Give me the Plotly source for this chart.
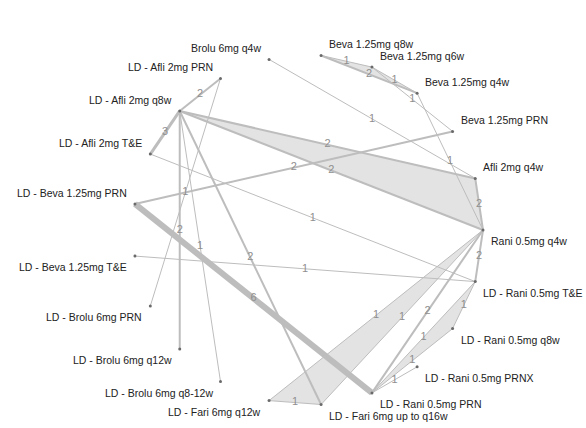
import numpy as np
import plotly.graph_objects as go

# Treatments, placed counter-clockwise around the circle starting at 3 o'clock
treatments = [
    "Rani 0.5mg q4w", "Afli 2mg q4w", "Beva 1.25mg PRN", "Beva 1.25mg q4w",
    "Beva 1.25mg q6w", "Beva 1.25mg q8w", "Brolu 6mg q4w",
    "LD - Afli 2mg PRN", "LD - Afli 2mg q8w", "LD - Afli 2mg T&E",
    "LD - Beva 1.25mg PRN", "LD - Beva 1.25mg T&E", "LD - Brolu 6mg PRN",
    "LD - Brolu 6mg q12w", "LD - Brolu 6mg q8-12w", "LD - Fari 6mg q12w",
    "LD - Fari 6mg up to q16w", "LD - Rani 0.5mg PRN", "LD - Rani 0.5mg PRNX",
    "LD - Rani 0.5mg q8w", "LD - Rani 0.5mg T&E",
]

# Direct comparisons: (treatment A, treatment B, number of studies)
edge_from = [
    "Beva 1.25mg q8w", "Beva 1.25mg q8w", "Beva 1.25mg q6w", "Beva 1.25mg q6w",
    "Beva 1.25mg q4w", "Brolu 6mg q4w", "Beva 1.25mg PRN", "Afli 2mg q4w",
    "LD - Afli 2mg q8w", "LD - Afli 2mg q8w", "LD - Afli 2mg q8w", "LD - Afli 2mg q8w",
    "LD - Afli 2mg PRN", "LD - Afli 2mg T&E", "LD - Beva 1.25mg T&E",
    "LD - Afli 2mg q8w", "LD - Afli 2mg q8w", "LD - Afli 2mg q8w",
    "LD - Beva 1.25mg PRN", "LD - Fari 6mg q12w", "LD - Fari 6mg q12w",
    "LD - Fari 6mg up to q16w", "Rani 0.5mg q4w", "Rani 0.5mg q4w",
    "LD - Rani 0.5mg T&E", "LD - Rani 0.5mg T&E", "LD - Rani 0.5mg q8w",
    "LD - Rani 0.5mg PRN",
]
edge_to = [
    "Beva 1.25mg q6w", "Beva 1.25mg q4w", "Beva 1.25mg q4w", "Beva 1.25mg PRN",
    "Rani 0.5mg q4w", "Afli 2mg q4w", "LD - Beva 1.25mg PRN", "Rani 0.5mg q4w",
    "Afli 2mg q4w", "Rani 0.5mg q4w", "LD - Afli 2mg PRN", "LD - Afli 2mg T&E",
    "LD - Brolu 6mg PRN", "LD - Rani 0.5mg T&E", "LD - Rani 0.5mg T&E",
    "LD - Brolu 6mg q12w", "LD - Brolu 6mg q8-12w", "LD - Fari 6mg up to q16w",
    "LD - Rani 0.5mg PRN", "LD - Fari 6mg up to q16w", "Rani 0.5mg q4w",
    "Rani 0.5mg q4w", "LD - Rani 0.5mg PRN", "LD - Rani 0.5mg T&E",
    "LD - Rani 0.5mg q8w", "LD - Rani 0.5mg PRN", "LD - Rani 0.5mg PRN",
    "LD - Rani 0.5mg PRNX",
]
n_studies = [1, 2, 1, 1, 1, 1, 2, 2, 2, 2, 2, 3, 1, 1, 1, 2, 1, 2, 6, 1, 1, 1, 2, 2, 1, 1, 1, 1]

# Three-arm studies (shaded)
multi_arm = [
    ["LD - Afli 2mg q8w", "Afli 2mg q4w", "Rani 0.5mg q4w"],
    ["Beva 1.25mg q8w", "Beva 1.25mg q6w", "Beva 1.25mg q4w"],
    ["LD - Fari 6mg q12w", "LD - Fari 6mg up to q16w", "Rani 0.5mg q4w"],
    ["LD - Rani 0.5mg T&E", "LD - Rani 0.5mg q8w", "LD - Rani 0.5mg PRN"],
]

# Circular layout
n = len(treatments)
theta = 2 * np.pi * np.arange(n) / n
pos = {t: (np.cos(a), np.sin(a)) for t, a in zip(treatments, theta)}

EDGE = "#bdbdbd"
FILL = "#e3e3e3"
NUM = "#8f8f8f"
FONT = "Liberation Sans, Arial, sans-serif"

fig = go.Figure()

for arms in multi_arm:
    xs = [pos[t][0] for t in arms] + [pos[arms[0]][0]]
    ys = [pos[t][1] for t in arms] + [pos[arms[0]][1]]
    fig.add_trace(go.Scatter(x=xs, y=ys, mode="lines", fill="toself",
                             fillcolor=FILL, line=dict(width=0),
                             hoverinfo="skip", showlegend=False))

for a, b, k in zip(edge_from, edge_to, n_studies):
    fig.add_trace(go.Scatter(x=[pos[a][0], pos[b][0]], y=[pos[a][1], pos[b][1]],
                             mode="lines", line=dict(color=EDGE, width=1.0 * k),
                             hoverinfo="skip", showlegend=False))

# Number of studies at the midpoint of each comparison
mx = [(pos[a][0] + pos[b][0]) / 2 for a, b in zip(edge_from, edge_to)]
my = [(pos[a][1] + pos[b][1]) / 2 for a, b in zip(edge_from, edge_to)]
fig.add_trace(go.Scatter(x=mx, y=my, mode="text", text=[str(k) for k in n_studies],
                         textfont=dict(family=FONT, size=11, color=NUM),
                         hoverinfo="skip", showlegend=False))

# Nodes
fig.add_trace(go.Scatter(x=[pos[t][0] for t in treatments], y=[pos[t][1] for t in treatments],
                         mode="markers", marker=dict(size=3, color="#6a6a6a"),
                         hoverinfo="skip", showlegend=False))

for t, a in zip(treatments, theta):
    c, s = np.cos(a), np.sin(a)
    right = c > 1e-9 or (abs(c) < 1e-9 and s < 0)
    fig.add_annotation(x=pos[t][0], y=pos[t][1], text=t, showarrow=False,
                       xanchor="left" if right else "right", yanchor="middle",
                       xshift=6 if right else -6, yshift=11 if s > 1e-9 else -11,
                       font=dict(family=FONT, size=10.5, color="#222222"))

fig.update_layout(
    width=586, height=428, margin=dict(l=0, r=0, t=0, b=0),
    paper_bgcolor="white", plot_bgcolor="white",
    xaxis=dict(range=[-308 / 175, 278 / 175], visible=False, fixedrange=True),
    yaxis=dict(range=[-198 / 175, 230 / 175], visible=False, fixedrange=True),
)

fig.write_html("out.html")
